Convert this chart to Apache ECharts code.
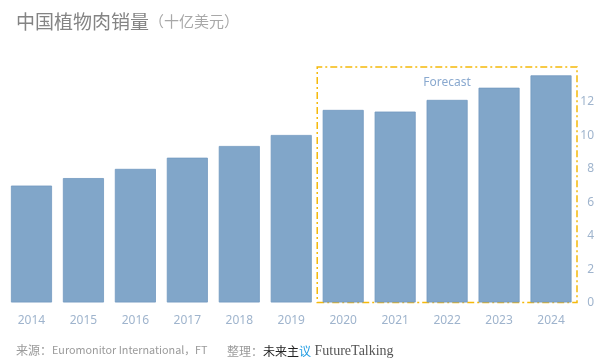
<!DOCTYPE html>
<html><head><meta charset="utf-8">
<script src="https://cdn.jsdelivr.net/npm/echarts@6/dist/echarts.min.js"></script>
<style>html,body{margin:0;padding:0;background:#fff}#c{width:604px;height:362px}</style>
</head><body><div id="c"></div>
<script>
const years = ['2014','2015','2016','2017','2018','2019','2020','2021','2022','2023','2024'];
const sales = [7.0, 7.45, 8.0, 8.67, 9.37, 10.03, 11.53, 11.43, 12.13, 12.86, 13.6];
const yTicks = [0, 2, 4, 6, 8, 10, 12];
const forecastStart = '2020';
const forecastEnd = '2024';
const forecastTop = 14.1;

const chart = echarts.init(document.getElementById('c'));
chart.setOption({
  animation: false,
  backgroundColor: '#fff',
  title: [
    {
      left: 11, top: 7,
      text: '{a|中国植物肉销量}{b|（十亿美元）}',
      textStyle: {
        rich: {
          a: {fontSize: 19, color: '#848484', fontFamily: 'Noto Sans CJK SC', fontWeight: 'normal'},
          b: {fontSize: 15, color: '#a8a8a8', fontFamily: 'Noto Sans CJK SC', fontWeight: 'normal'}
        }
      }
    },
    {
      left: 11, top: 339,
      text: '{s|来源：}{e|Euromonitor International，FT}',
      textStyle: {
        rich: {
          s: {fontSize: 12, color: '#9a9a9a', fontFamily: 'Noto Sans CJK SC', fontWeight: 'normal'},
          e: {fontSize: 10.8, color: '#9a9a9a', fontFamily: 'Noto Sans CJK SC', fontWeight: 'normal'}
        }
      }
    },
    {
      left: 222, top: 339,
      text: '{g|整理：}{k|未来主}{bl|议}{f| FutureTalking}',
      textStyle: {
        rich: {
          g: {fontSize: 12, color: '#9a9a9a', fontFamily: 'Noto Sans CJK SC', fontWeight: 'normal'},
          k: {fontSize: 12, color: '#222', fontFamily: 'Noto Sans CJK SC', fontWeight: 'normal'},
          bl: {fontSize: 12, color: '#1e9be2', fontFamily: 'Noto Sans CJK SC', fontWeight: 'normal'},
          f: {fontSize: 14, color: '#555', fontFamily: 'Liberation Serif', fontWeight: 'normal'}
        }
      }
    }
  ],
  grid: {left: 5.5, right: 27, top: 67, bottom: 59.5, containLabel: false},
  xAxis: {
    type: 'category',
    data: years,
    axisLine: {show: false},
    axisTick: {show: false},
    axisLabel: {color: '#9fb4cd', fontSize: 12, margin: 12, fontFamily: 'Noto Sans'}
  },
  yAxis: {
    type: 'value',
    position: 'right',
    min: 0, max: 14.1,
    interval: 2,
    splitLine: {show: false},
    axisLine: {show: false},
    axisTick: {show: false},
    axisLabel: {
      color: '#9fb4cd', fontSize: 12, align: 'right', margin: 17, fontFamily: 'Noto Sans',
      formatter: v => yTicks.includes(v) ? String(v) : ''
    }
  },
  series: [{
    type: 'bar',
    data: sales,
    barCategoryGap: '21%',
    itemStyle: {color: '#81a6c9', borderColor: '#7299c0', borderWidth: 0.8},
    markArea: {
      silent: true,
      itemStyle: {
        color: 'rgba(0,0,0,0)',
        borderColor: '#f5b90a',
        borderWidth: 1.5,
        borderType: [7, 3, 2, 3]
      },
      label: {
        show: true, position: 'insideTop', distance: 10,
        color: '#8aa9cf', fontSize: 12, fontFamily: 'Noto Sans'
      },
      data: [[
        {name: 'Forecast', xAxis: forecastStart, yAxis: 0},
        {xAxis: forecastEnd, yAxis: forecastTop}
      ]]
    }
  }]
});
</script></body></html>
